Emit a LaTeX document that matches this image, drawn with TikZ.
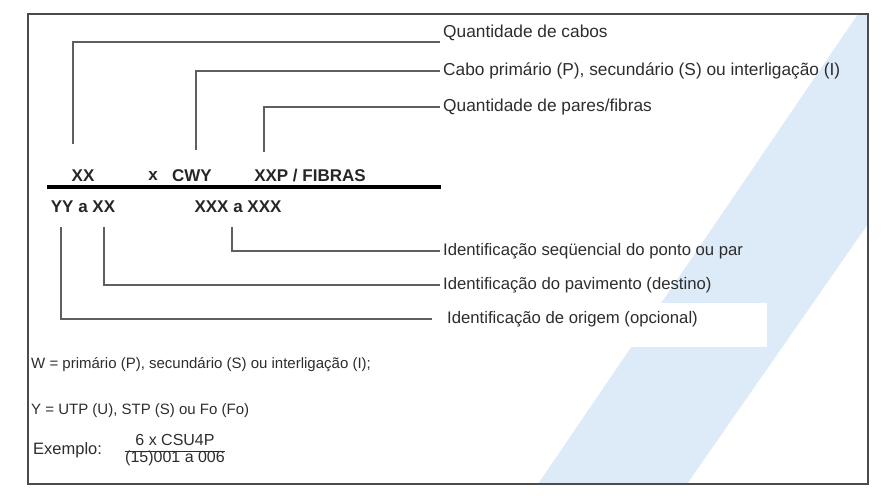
\documentclass[tikz,border=0pt]{standalone}
\usepackage{fontspec}
\setmainfont{Liberation Sans}
\definecolor{bandblue}{RGB}{221,235,249}
\definecolor{txtgray}{RGB}{45,45,45}
\definecolor{linegray}{RGB}{95,95,95}
\newcommand{\fsz}[1]{\fontsize{#1}{#1}\selectfont}

\begin{document}
\begin{tikzpicture}[x=1pt, y=-1pt,
  conn/.style={draw=linegray, line width=1.3pt},
  lbl/.style={anchor=west, inner xsep=3pt, inner ysep=0pt, text=txtgray, font=\fsz{17.3}},
  code/.style={inner sep=0pt, text=black!85, font=\fsz{17}\bfseries},
  note/.style={anchor=west, inner sep=0pt, text=txtgray, font=\fsz{15}}]
  \useasboundingbox (0,0) rectangle (890,495);
  % light blue band in the background
  \fill[bandblue] (538,484) -- (858,14) -- (868,14) -- (868,224) -- (687,484) -- cycle;
  % outer frame
  \draw[black!70, line width=1.5pt] (28,14) rectangle (868,484);

  % labels on the right, upper group
  \node[lbl] (lq) at (440,33) {Quantidade de cabos};
  \node[lbl] (lc) at (440,71) {Cabo primário (P), secundário (S) ou interligação (I)};
  \node[lbl] (lp) at (440,107) {Quantidade de pares/fibras};

  % code above and below the bar
  \node[code] (xx) at (83,176) {XX};
  \node[code] (x) at (153,176) {x};
  \node[code] (cwy) at (192,176) {CWY};
  \node[code] (xxp) at (310,176) {XXP / FIBRAS};
  \draw[line width=4pt] (47,187) -- (441,187);
  \node[code] (yy) at (83,207) {YY a XX};
  \node[code] (xxx) at (238,207) {XXX a XXX};

  % upper connectors
  \coordinate (c1) at (73,144);
  \coordinate (c2) at (196,150);
  \coordinate (c3) at (264,152);
  \draw[conn] (c1) |- ([yshift=-9pt]lq.west);
  \draw[conn] (c2) |- (lc.west);
  \draw[conn] (c3) |- (lp.west);

  % labels on the right, lower group
  \fill[white] (440,303) rectangle (767,347);
  \node[lbl, font=\fsz{16.7}] (ls) at (440,251) {Identificação seqüencial do ponto ou par};
  \node[lbl, font=\fsz{16.7}] (lv) at (440,285) {Identificação do pavimento (destino)};
  \node[lbl, font=\fsz{16.7}] (lo) at (444,319) {Identificação de origem (opcional)};

  % lower connectors
  \coordinate (d1) at (61,227);
  \coordinate (d2) at (104,227);
  \coordinate (d3) at (232,227);
  \draw[conn] (d3) |- (ls.west);
  \draw[conn] (d2) |- (lv.west);
  \draw[conn] (d1) |- ([xshift=-12pt]lo.west);

  % notes at the bottom
  \node[note] (w) at (31,365) {W = primário (P), secundário (S) ou interligação (I);};
  \node[note] (y) at (31,411) {Y = UTP (U), STP (S) ou Fo (Fo)};
  \node[note, font=\fsz{16.5}] (ex) at (33,450) {Exemplo:};
  \node[note, anchor=center, font=\fsz{16}] (frac) at (175,451)
    {\begin{tabular}{@{}c@{}}6 x CSU4P\\\hline (15)001 a 006\end{tabular}};
\end{tikzpicture}
\end{document}
